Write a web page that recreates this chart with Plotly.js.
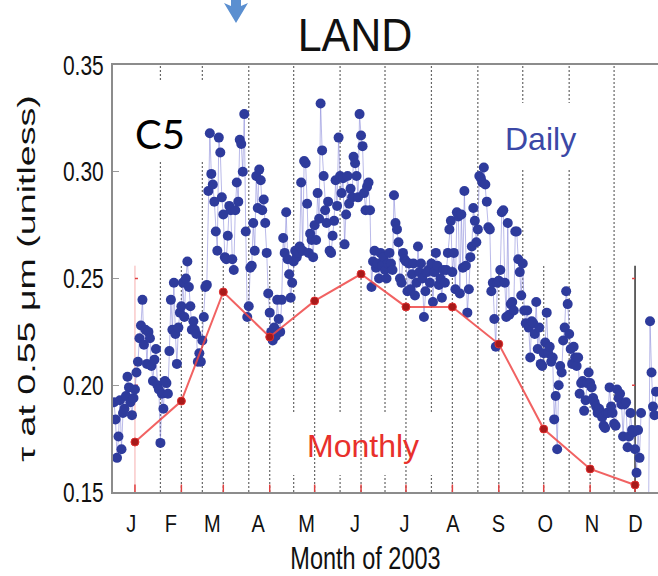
<!DOCTYPE html>
<html>
<head>
<meta charset="utf-8">
<script src="https://cdn.plot.ly/plotly-3.0.1.min.js"></script>
<style>html,body{margin:0;padding:0;background:#fff;}#chart{width:658px;height:576px;}</style>
</head>
<body>
<div id="chart"></div>
<script>
// ---------------- DATA ----------------
// Daily land AOD (day of year 1..365)
const dailyJan = [0.192,0.184,0.166,0.176,0.193,0.170,0.187,0.189,0.195,0.204,0.199,0.192,0.186,0.194,0.198,0.206,0.211,0.222,0.228,0.240,0.219,0.226,0.210,0.225,0.222,0.209,0.202,0.212,0.217,0.200,0.198];
const dailyFeb = [0.173,0.196,0.189,0.202,0.201,0.196,0.216,0.240,0.226,0.248,0.224,0.210,0.227,0.234,0.237,0.248,0.232,0.250,0.258,0.246,0.237,0.226,0.230,0.226,0.224,0.211,0.215,0.211];
const dailyMar = [0.221,0.232,0.246,0.247,0.291,0.318,0.299,0.294,0.286,0.272,0.263,0.316,0.309,0.288,0.280,0.260,0.259,0.270,0.284,0.282,0.259,0.254,0.282,0.295,0.286,0.315,0.313,0.300,0.327,0.272,0.232];
const dailyApr = [0.237,0.255,0.256,0.276,0.263,0.298,0.283,0.301,0.296,0.282,0.287,0.276,0.262,0.243,0.234,0.225,0.221,0.227,0.223,0.240,0.231,0.225,0.240,0.269,0.262,0.281,0.259,0.252,0.241,0.248];
const dailyMay = [0.258,0.263,0.260,0.262,0.265,0.295,0.263,0.305,0.304,0.285,0.262,0.271,0.268,0.260,0.275,0.268,0.290,0.278,0.332,0.310,0.298,0.282,0.276,0.286,0.263,0.262,0.270,0.277,0.296,0.284,0.316];
const dailyJun = [0.298,0.290,0.297,0.266,0.280,0.298,0.285,0.292,0.288,0.307,0.304,0.298,0.288,0.327,0.317,0.312,0.290,0.282,0.293,0.295,0.282,0.246,0.258,0.263,0.255,0.257,0.250,0.262,0.256,0.260];
const dailyJul = [0.254,0.250,0.257,0.262,0.257,0.254,0.289,0.276,0.273,0.267,0.250,0.248,0.262,0.259,0.258,0.244,0.257,0.245,0.252,0.257,0.242,0.248,0.265,0.253,0.257,0.250,0.232,0.244,0.253,0.254,0.248];
const dailyAug = [0.257,0.239,0.253,0.262,0.256,0.247,0.250,0.241,0.254,0.248,0.254,0.262,0.273,0.277,0.253,0.262,0.245,0.281,0.279,0.243,0.280,0.255,0.291,0.256,0.234,0.245,0.260,0.265,0.283,0.277,0.267];
const dailySep = [0.273,0.298,0.297,0.295,0.302,0.294,0.286,0.274,0.273,0.244,0.248,0.231,0.218,0.248,0.249,0.254,0.281,0.282,0.248,0.232,0.276,0.233,0.238,0.239,0.235,0.272,0.272,0.259,0.253,0.242];
const dailyOct = [0.257,0.235,0.229,0.235,0.227,0.213,0.230,0.229,0.224,0.239,0.217,0.227,0.210,0.209,0.215,0.220,0.234,0.215,0.218,0.211,0.213,0.184,0.195,0.170,0.200,0.209,0.206,0.221,0.227,0.244,0.238];
const dailyNov = [0.224,0.217,0.210,0.218,0.213,0.209,0.213,0.196,0.201,0.202,0.188,0.193,0.201,0.206,0.201,0.199,0.194,0.192,0.190,0.187,0.189,0.187,0.185,0.181,0.180,0.187,0.187,0.199,0.190,0.187];
const dailyDec = [0.182,0.181,0.198,0.194,0.196,0.191,0.176,0.191,0.192,0.171,0.176,0.187,0.179,0.178,0.170,0.159,0.179,0.166,0.187,null,null,null,null,0.135,0.230,0.206,0.190,0.186,0.197,null,null];

// Monthly means (plotted at mid-month day of year)
const monthDays = [15,46,74,105,135,166,196,227,258,288,319,349];
const monthlyVals = [0.1734,0.1926,0.2437,0.2226,0.2395,0.2521,0.2367,0.2367,0.2193,0.1795,0.1608,0.1533];

// Month boundaries (first day of month, Feb..Dec)
const monthStartDays = [32,60,91,121,152,182,213,244,274,305,335];

// Axis labels
const monthLetters = ['J','F','M','A','M','J','J','A','S','O','N','D'];
const monthLabelDays = [12.5,39,66.7,97.3,129.7,162,195,227.3,257.8,289,320.3,349.3];
const yTickVals = [0.15,0.20,0.25,0.30,0.35];
const yTickText = ['0.15','0.20','0.25','0.30','0.35'];

// ---------------- BUILD ----------------
const daily = [].concat(dailyJan,dailyFeb,dailyMar,dailyApr,dailyMay,dailyJun,dailyJul,dailyAug,dailySep,dailyOct,dailyNov,dailyDec);
const dayNums = daily.map((_, i) => i + 1);

const PL = 113, PT = 65, PW = 545, PH = 427;
const px = x => (x - PL) / PW;
const py = y => (PT + PH - y) / PH;

const FONT = 'Liberation Sans, Arial, Helvetica, sans-serif';
const overlayTop = 0.256;

const shapes = [];
monthStartDays.forEach(d => shapes.push({type:'line', layer:'below', xref:'x', yref:'paper', x0:d, x1:d, y0:0, y1:1,
  line:{color:'#666', width:1.2, dash:'2px,2px'}}));
monthDays.forEach((d, i) => {
  if (i === 0) {
    shapes.push({type:'line', layer:'below', xref:'x', yref:'y', x0:d, x1:d, y0:0.15, y1:overlayTop, line:{color:'rgba(240,120,120,0.6)', width:1}});
  } else if (i === monthDays.length - 1) {
    shapes.push({type:'line', layer:'below', xref:'x', yref:'y', x0:d, x1:d, y0:0.15, y1:overlayTop, line:{color:'#333', width:1.5}});
  } else {
    shapes.push({type:'line', layer:'below', xref:'x', yref:'y', x0:d, x1:d, y0:0.15, y1:overlayTop, line:{color:'#666', width:1.2, dash:'2px,2px'}});
  }
  shapes.push({type:'line', layer:'below', xref:'x', yref:'y', x0:d, x1:d, y0:0.15, y1:0.1535, line:{color:'#e04040', width:1.5}});
});
// small red ticks on overlay axes
[0.25, 0.20].forEach(v => {
  shapes.push({type:'line', layer:'below', xref:'x', yref:'y', x0:monthDays[0], x1:monthDays[0]+2, y0:v, y1:v, line:{color:'#e04040', width:1.5}});
  shapes.push({type:'line', layer:'below', xref:'x', yref:'y', x0:monthDays[11]-2, x1:monthDays[11], y0:v, y1:v, line:{color:'#e04040', width:1.5}});
});
// white label boxes (pasted text backgrounds)
[[116,82,210,160],[490,103,600,170],[285,413,462,475]].forEach(b => shapes.push({
  type:'rect', layer:'below', xref:'paper', yref:'paper', x0:px(b[0]), x1:px(b[2]), y0:py(b[3]), y1:py(b[1]),
  line:{width:0}, fillcolor:'#ffffff'}));
// blue arrow at top
const arrowPts = [[231,0],[241,0],[241,6],[248,3],[236,23],[224,3],[231,6]];
shapes.push({type:'path', xref:'paper', yref:'paper', layer:'above',
  path:'M' + arrowPts.map(p => px(p[0]).toFixed(5) + ',' + py(p[1]).toFixed(5)).join(' L') + ' Z',
  fillcolor:'#5b8fd0', line:{width:0}});

const traces = [
  {x: dayNums, y: daily, type:'scatter', mode:'lines+markers', connectgaps:false,
   line:{color:'rgba(130,130,215,0.55)', width:1},
   marker:{size:10, color:'#2e3b9c', line:{width:0}}, hoverinfo:'skip'},
  {x: monthDays, y: monthlyVals, type:'scatter', mode:'lines+markers',
   line:{color:'rgba(238,70,70,0.85)', width:2},
   marker:{size:8, color:'#a81a1a', line:{color:'#e03030', width:1}}, hoverinfo:'skip'}
];

const layout = {
  width:658, height:576, showlegend:false,
  paper_bgcolor:'#ffffff', plot_bgcolor:'#ffffff',
  margin:{l:PL, r:0, t:PT, b:576-PT-PH, pad:0},
  font:{family:FONT, color:'#111'},
  title:{text:'LAND', x:355/658, xanchor:'center', y:1-35/576, yanchor:'middle', font:{family:FONT, size:43, color:'#111'}},
  xaxis:{range:[0.33,364.33], showline:true, linecolor:'#8c8c8c', linewidth:2, mirror:true,
    showgrid:false, zeroline:false, ticks:'', tickvals:monthLabelDays, ticktext:monthLetters,
    tickfont:{family:FONT, size:20, color:'#111'}, ticklabelstandoff:13,
    title:{text:'Month of 2003', font:{family:FONT, size:23.5, color:'#111'}, standoff:16}},
  yaxis:{range:[0.15,0.35], showline:true, linecolor:'#8c8c8c', linewidth:2, mirror:false,
    showgrid:false, zeroline:false, ticks:'inside', ticklen:6, tickcolor:'#999', tickwidth:1,
    tickvals:yTickVals, ticktext:yTickText, tickfont:{family:FONT, size:21, color:'#111'}, ticklabelstandoff:3,
    title:{text:'τ at 0.55 μm (unitless)', font:{family:FONT, size:23.5, color:'#111'}, standoff:21}},
  shapes: shapes,
  annotations:[
    {xref:'paper', yref:'paper', x:px(160), y:py(134), text:'C5', showarrow:false, xanchor:'center', yanchor:'middle',
     font:{family:'Lato, Open Sans, sans-serif', size:40, color:'#000'}},
    {xref:'paper', yref:'paper', x:px(540), y:py(139), text:'Daily', showarrow:false, xanchor:'center', yanchor:'middle',
     font:{family:FONT, size:32, color:'#3b48a6'}},
    {xref:'paper', yref:'paper', x:px(363), y:py(446), text:'Monthly', showarrow:false, xanchor:'center', yanchor:'middle',
     font:{family:FONT, size:32, color:'#e8302c'}}
  ]
};

// The source figure was stretched vertically; mimic that on the axis texts.
function stretchText(el, sx, sy, dx) {
  const bb = el.getBBox();
  const cx = bb.x + bb.width / 2, cy = bb.y + bb.height / 2;
  const t = el.getAttribute('transform') || '';
  el.setAttribute('transform', (dx ? 'translate(' + dx + ',0) ' : '') + t + ' translate(' + cx + ',' + cy + ') scale(' + sx + ',' + sy + ') translate(' + (-cx) + ',' + (-cy) + ')');
}

Plotly.newPlot('chart', traces, layout, {displayModeBar:false, staticPlot:true}).then(gd => {
  gd.querySelectorAll('g.ytick text').forEach(el => stretchText(el, 1, 1.3));
  gd.querySelectorAll('g.xtick text').forEach(el => stretchText(el, 1, 1.2));
  gd.querySelectorAll('text.xtitle').forEach(el => stretchText(el, 1, 1.3, -20));
  gd.querySelectorAll('text.ytitle').forEach(el => stretchText(el, 1.6, 1));
  gd.querySelectorAll('text.gtitle').forEach(el => stretchText(el, 1, 1.08));
});
</script>
</body>
</html>
